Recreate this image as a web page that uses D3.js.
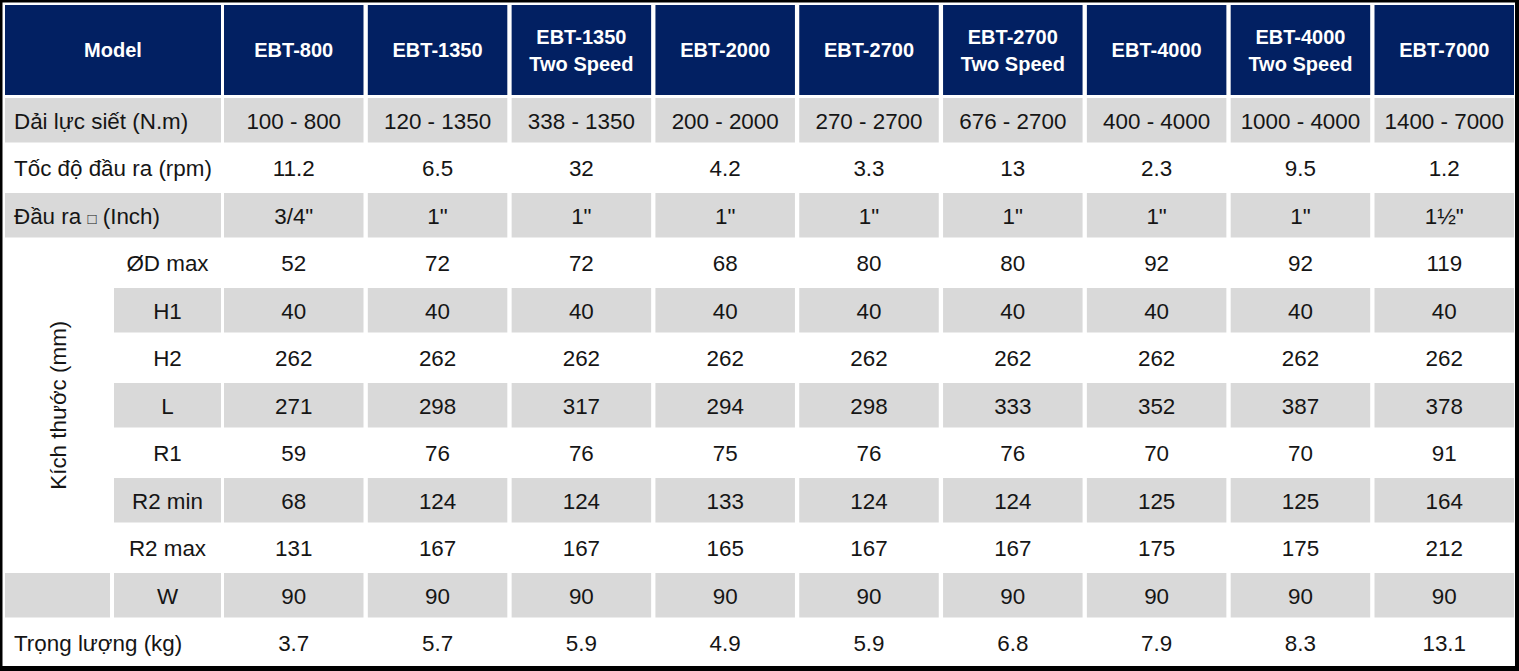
<!DOCTYPE html>
<html>
<head>
<meta charset="utf-8">
<script src="https://cdn.jsdelivr.net/npm/d3@7"></script>
<style>
  body { margin: 0; background: #fff; }
  svg { display: block; }
  text { font-family: "Liberation Sans", Arial, sans-serif; }
</style>
</head>
<body>
<svg id="chart"></svg>
<script>
// table data
const models = ["EBT-800", "EBT-1350", "EBT-1350|Two Speed", "EBT-2000", "EBT-2700",
    "EBT-2700|Two Speed", "EBT-4000", "EBT-4000|Two Speed", "EBT-7000"];
const torqueRange = ["100 - 800", "120 - 1350", "338 - 1350", "200 - 2000", "270 - 2700",
    "676 - 2700", "400 - 4000", "1000 - 4000", "1400 - 7000"];
const outputSpeed = ["11.2", "6.5", "32", "4.2", "3.3", "13", "2.3", "9.5", "1.2"];
const driveSize = ['3/4"', '1"', '1"', '1"', '1"', '1"', '1"', '1"', '1½"'];
const odMax = [52, 72, 72, 68, 80, 80, 92, 92, 119];
const h1 = [40, 40, 40, 40, 40, 40, 40, 40, 40];
const h2 = [262, 262, 262, 262, 262, 262, 262, 262, 262];
const lenL = [271, 298, 317, 294, 298, 333, 352, 387, 378];
const r1 = [59, 76, 76, 75, 76, 76, 70, 70, 91];
const r2min = [68, 124, 124, 133, 124, 124, 125, 125, 164];
const r2max = [131, 167, 167, 165, 167, 167, 175, 175, 212];
const widthW = [90, 90, 90, 90, 90, 90, 90, 90, 90];
const weight = ["3.7", "5.7", "5.9", "4.9", "5.9", "6.8", "7.9", "8.3", "13.1"];

const dimLabel = "Kích thước (mm)";
const rows = [
    {label: "Dải lực siết (N.m)", values: torqueRange},
    {label: "Tốc độ đầu ra (rpm)", values: outputSpeed},
    {label: "Đầu ra |□| (Inch)", values: driveSize},
    {sub: "ØD max", values: odMax},
    {sub: "H1", values: h1},
    {sub: "H2", values: h2},
    {sub: "L", values: lenL},
    {sub: "R1", values: r1},
    {sub: "R2 min", values: r2min},
    {sub: "R2 max", values: r2max},
    {sub: "W", values: widthW, shadeGroup: true},
    {label: "Trọng lượng (kg)", values: weight}
];

const W = 1519, H = 671;
const navy = "#022062", gray = "#d9d9d9", ink = "#151515";
const fs = 22.4;

const svg = d3.select("#chart").attr("width", W).attr("height", H);

// outer frame
svg.append("rect").attr("width", W).attr("height", H).attr("fill", "#000");
svg.append("rect").attr("x", 2.5).attr("y", 2.5)
    .attr("width", 1515 - 2.5).attr("height", 666 - 2.5).attr("fill", "#fff");

const x = d3.scaleBand().domain(d3.range(models.length))
    .range([224, 1514]).paddingInner(0.03).paddingOuter(0);
const y = d3.scaleBand().domain(d3.range(rows.length))
    .range([98, 665]).paddingInner(0.063).paddingOuter(0);

const headTop = 5, headBottom = 95;
const firstX0 = 5, firstX1 = 221, subX0 = 114, groupX1 = 110;

// header
const head = svg.append("g");
head.append("rect").attr("x", firstX0).attr("y", headTop)
    .attr("width", firstX1 - firstX0).attr("height", headBottom - headTop).attr("fill", navy);
head.append("text").attr("x", (firstX0 + firstX1) / 2).attr("y", (headTop + headBottom) / 2)
    .attr("dy", "0.35em").attr("text-anchor", "middle").attr("fill", "#fff")
    .attr("font-size", 20).attr("font-weight", "bold").text("Model");

const hcell = head.selectAll("g.h").data(models).enter().append("g").attr("class", "h");
hcell.append("rect")
    .attr("x", (d, i) => x(i)).attr("y", headTop)
    .attr("width", x.bandwidth()).attr("height", headBottom - headTop).attr("fill", navy);
hcell.each(function(d, i) {
    const lines = d.split("|");
    const cy = (headTop + headBottom) / 2;
    const t = d3.select(this).append("text")
        .attr("x", x(i) + x.bandwidth() / 2)
        .attr("text-anchor", "middle").attr("fill", "#fff")
        .attr("font-size", 20).attr("font-weight", "bold");
    lines.forEach((ln, k) => {
        t.append("tspan").attr("x", x(i) + x.bandwidth() / 2)
            .attr("y", cy + (k - (lines.length - 1) / 2) * 27)
            .attr("dy", "0.35em").text(ln);
    });
});

// body rows
const body = svg.append("g");
rows.forEach((r, ri) => {
    const shaded = ri % 2 === 0;
    const fill = shaded ? gray : "#fff";
    const ry = y(ri), rh = y.bandwidth(), cy = ry + rh / 2 + 0.5;

    if (r.label) {
        body.append("rect").attr("x", firstX0).attr("y", ry)
            .attr("width", firstX1 - firstX0).attr("height", rh).attr("fill", fill);
        const t = body.append("text").attr("x", 14).attr("y", cy).attr("dy", "0.35em")
            .attr("font-size", fs).attr("fill", ink);
        r.label.split("|").forEach((part, k) => {
            const s = t.append("tspan").text(part);
            if (k === 1) s.attr("font-size", 15);
        });
    } else {
        if (r.shadeGroup) {
            body.append("rect").attr("x", firstX0).attr("y", ry)
                .attr("width", groupX1 - firstX0).attr("height", rh).attr("fill", fill);
        }
        body.append("rect").attr("x", subX0).attr("y", ry)
            .attr("width", firstX1 - subX0).attr("height", rh).attr("fill", fill);
        body.append("text").attr("x", (subX0 + firstX1) / 2).attr("y", cy).attr("dy", "0.35em")
            .attr("text-anchor", "middle").attr("font-size", fs).attr("fill", ink).text(r.sub);
    }

    body.selectAll(null).data(r.values).enter().append("rect")
        .attr("x", (d, i) => x(i)).attr("y", ry)
        .attr("width", x.bandwidth()).attr("height", rh).attr("fill", fill);
    body.selectAll(null).data(r.values).enter().append("text")
        .attr("x", (d, i) => x(i) + x.bandwidth() / 2).attr("y", cy).attr("dy", "0.35em")
        .attr("text-anchor", "middle").attr("font-size", fs).attr("fill", ink)
        .text(d => d);
});

// rotated group label for the dimension rows
const dimIdx = rows.map((r, i) => r.sub && !r.shadeGroup ? i : -1).filter(i => i >= 0);
const gy0 = y(d3.min(dimIdx)), gy1 = y(d3.max(dimIdx)) + y.bandwidth();
body.append("text")
    .attr("transform", `translate(${(firstX0 + groupX1) / 2 + 1},${(gy0 + gy1) / 2}) rotate(-90)`)
    .attr("dy", "0.35em").attr("text-anchor", "middle")
    .attr("font-size", fs).attr("fill", ink).text(dimLabel);
</script>
</body>
</html>
